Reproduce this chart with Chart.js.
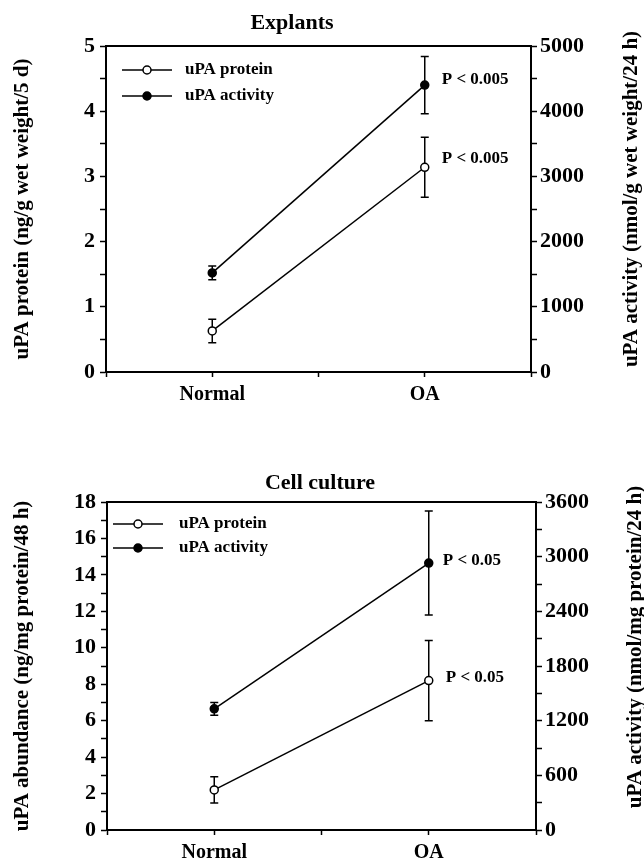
<!DOCTYPE html>
<html><head><meta charset="utf-8">
<script src="https://cdn.jsdelivr.net/npm/chart.js@4.4.1/dist/chart.umd.min.js"></script>
<style>
html,body{margin:0;padding:0;background:#fff;}
#wrap{position:relative;width:644px;height:861px;overflow:hidden;}
.box{position:absolute;left:0;width:644px;}
#b1{top:0;height:410px;}
#b2{top:410px;height:451px;}
</style></head><body>
<div id="wrap">
<div class="box" id="b1"><canvas id="c1" width="644" height="410"></canvas></div>
<div class="box" id="b2"><canvas id="c2" width="644" height="451"></canvas></div>
</div>
<script>
// ---------- DATA ----------
const categories = ['Normal', 'OA'];
const seriesNames = ['uPA protein', 'uPA activity'];

// Explants
const explantProtein = [0.63, 3.14];
const explantProteinErr = [0.18, 0.46];
const explantActivity = [1520, 4400];
const explantActivityErr = [105, 440];
const explantPLabels = ['P < 0.005', 'P < 0.005'];
const explantLeftTicks = [0, 1, 2, 3, 4, 5];
const explantRightTicks = [0, 1000, 2000, 3000, 4000, 5000];

// Cell culture
const cultureProtein = [2.2, 8.2];
const cultureProteinErr = [0.72, 2.2];
const cultureActivity = [1330, 2930];
const cultureActivityErr = [70, 570];
const culturePLabels = ['P < 0.05', 'P < 0.05'];
const cultureLeftTicks = [0, 2, 4, 6, 8, 10, 12, 14, 16, 18];
const cultureRightTicks = [0, 600, 1200, 1800, 2400, 3000, 3600];

// ---------- STYLE ----------
const FONT = "'Liberation Serif', 'Times New Roman', 'DejaVu Serif', serif";
Chart.defaults.font.family = FONT;
Chart.defaults.font.weight = 'bold';
Chart.defaults.color = '#000';

const decor = {
  id: 'decor',
  beforeDatasetsDraw(chart, args, o) {
    const ctx = chart.ctx, xs = chart.scales.x;
    ctx.save();
    ctx.strokeStyle = '#000';
    ctx.lineWidth = 1.5;
    chart.data.datasets.forEach(ds => {
      const ys = chart.scales[ds.yAxisID];
      ds.data.forEach((p, i) => {
        const e = ds.errorBars[i];
        const x = xs.getPixelForValue(p.x);
        const yT = ys.getPixelForValue(p.y + e), yB = ys.getPixelForValue(p.y - e);
        ctx.beginPath();
        ctx.moveTo(x, yT); ctx.lineTo(x, yB);
        ctx.moveTo(x - 4, yT); ctx.lineTo(x + 4, yT);
        ctx.moveTo(x - 4, yB); ctx.lineTo(x + 4, yB);
        ctx.stroke();
      });
    });
    ctx.restore();
  },
  afterDraw(chart, args, o) {
    const ctx = chart.ctx, ca = chart.chartArea;
    ctx.save();
    // top frame line
    ctx.strokeStyle = '#000';
    ctx.lineWidth = 2;
    ctx.beginPath(); ctx.moveTo(ca.left - 1, ca.top); ctx.lineTo(ca.right + 1, ca.top); ctx.stroke();
    // legend
    ctx.font = 'bold 17px ' + FONT;
    ctx.textBaseline = 'middle';
    ctx.textAlign = 'left';
    ctx.fillStyle = '#000';
    chart.data.datasets.forEach((ds, k) => {
      const y = ca.top + o.legendTop + k * o.legendGap;
      const x0 = ca.left + o.legendLeft;
      ctx.lineWidth = 1.5;
      ctx.beginPath(); ctx.moveTo(x0, y); ctx.lineTo(x0 + o.legendLen, y); ctx.stroke();
      ctx.beginPath(); ctx.arc(x0 + o.legendLen / 2, y, 4, 0, Math.PI * 2);
      ctx.fillStyle = ds.pointBackgroundColor; ctx.fill(); ctx.stroke();
      ctx.fillStyle = '#000';
      ctx.fillText(ds.label, ca.left + o.legendText, y);
    });
    // P labels at OA points
    ctx.font = 'bold 17px ' + FONT;
    chart.data.datasets.forEach((ds, k) => {
      const el = chart.getDatasetMeta(k).data[1];
      ctx.fillText(ds.pLabel, el.x + o.pdx[k], el.y + o.pdy[k]);
    });
    // right axis title
    ctx.font = 'bold 21px ' + FONT;
    ctx.textAlign = 'center';
    ctx.translate(o.rightTitleX, o.rightTitleY);
    ctx.rotate(-Math.PI / 2);
    ctx.fillText(o.rightTitle, 0, 0);
    ctx.restore();
  }
};

function makeChart(id, c) {
  const pts = vals => categories.map((cat, i) => ({x: 2 * i + 1, y: vals[i]}));
  const tickCb = list => v => (list.indexOf(Math.round(v * 1000) / 1000) >= 0 ? String(v) : '');
  return new Chart(document.getElementById(id), {
    type: 'line',
    data: {
      datasets: [
        {label: seriesNames[0], data: pts(c.protein), errorBars: c.proteinErr, pLabel: c.pLabels[0],
         yAxisID: 'y', borderColor: '#000', borderWidth: 1.5, pointRadius: 4, pointBorderWidth: 1.5,
         pointBackgroundColor: '#fff', pointBorderColor: '#000'},
        {label: seriesNames[1], data: pts(c.activity), errorBars: c.activityErr, pLabel: c.pLabels[1],
         yAxisID: 'y1', borderColor: '#000', borderWidth: 1.5, pointRadius: 4, pointBorderWidth: 1.5,
         pointBackgroundColor: '#000', pointBorderColor: '#000'}
      ]
    },
    options: {
      responsive: false, animation: false,
      layout: {padding: {left: 0, right: c.padRight, top: 0, bottom: 0}},
      plugins: {
        legend: {display: false}, tooltip: {enabled: false},
        title: {display: true, text: c.title, font: {size: 22, weight: 'bold', lineHeight: 1.2},
                padding: {top: c.titlePadTop, bottom: c.titlePadBottom}, color: '#000'},
        decor: c.decor
      },
      scales: {
        x: {type: 'linear', min: 0, max: 4, position: 'bottom',
            afterFit: s => { s.height = c.xHeight; },
            ticks: {stepSize: 1, autoSkip: false, maxRotation: 0, padding: 6, font: {size: 20, weight: 'bold'},
                    callback: v => { const i = (v - 1) / 2; return Number.isInteger(i) ? categories[i] : ''; }},
            grid: {drawOnChartArea: false, tickLength: 5, tickWidth: 1.5, tickColor: '#000'},
            border: {color: '#000', width: 2}},
        y: {type: 'linear', position: 'left', min: c.leftTicks[0], max: c.leftTicks[c.leftTicks.length - 1],
            afterFit: s => { s.width = c.leftWidth; },
            ticks: {stepSize: c.leftStep, autoSkip: false, padding: 5, font: {size: 22, weight: 'bold'},
                    callback: tickCb(c.leftTicks)},
            grid: {drawOnChartArea: false, tickLength: 6, tickWidth: 1.5, tickColor: '#000'},
            border: {color: '#000', width: 2},
            title: {display: true, text: c.leftTitle, font: {size: 21, weight: 'bold', lineHeight: 1.2},
                    padding: {top: 10, bottom: 0}, color: '#000'}},
        y1: {type: 'linear', position: 'right', min: c.rightTicks[0], max: c.rightTicks[c.rightTicks.length - 1],
            afterFit: s => { s.width = c.rightWidth; },
            ticks: {stepSize: c.rightStep, autoSkip: false, padding: 3, font: {size: 22, weight: 'bold'},
                    callback: tickCb(c.rightTicks)},
            grid: {drawOnChartArea: false, tickLength: 6, tickWidth: 1.5, tickColor: '#000'},
            border: {color: '#000', width: 2}}
      }
    },
    plugins: [decor]
  });
}

makeChart('c1', {
  title: 'Explants', protein: explantProtein, proteinErr: explantProteinErr,
  activity: explantActivity, activityErr: explantActivityErr, pLabels: explantPLabels,
  leftTicks: explantLeftTicks, rightTicks: explantRightTicks, leftStep: 0.5, rightStep: 500,
  leftTitle: 'uPA protein (ng/g wet weight/5 d)',
  padRight: 60, leftWidth: 106, rightWidth: 53, xHeight: 38,
  titlePadTop: 10, titlePadBottom: 9.6,
  decor: {legendTop: 24, legendGap: 26, legendLeft: 16, legendLen: 50, legendText: 79,
          pdx: [17, 17], pdy: [-9, -6], rightTitle: 'uPA activity (nmol/g wet weight/24 h)',
          rightTitleX: 632, rightTitleY: 199}
});

makeChart('c2', {
  title: 'Cell culture', protein: cultureProtein, proteinErr: cultureProteinErr,
  activity: cultureActivity, activityErr: cultureActivityErr, pLabels: culturePLabels,
  leftTicks: cultureLeftTicks, rightTicks: cultureRightTicks, leftStep: 1, rightStep: 300,
  leftTitle: 'uPA abundance (ng/mg protein/48 h)',
  padRight: 4, leftWidth: 107, rightWidth: 104, xHeight: 31,
  titlePadTop: 60, titlePadBottom: 5.6,
  decor: {legendTop: 22, legendGap: 24, legendLeft: 6, legendLen: 50, legendText: 72,
          pdx: [17, 14], pdy: [-3, -2], rightTitle: 'uPA activity (nmol/mg protein/24 h)',
          rightTitleX: 636, rightTitleY: 237}
});
</script>
</body></html>
